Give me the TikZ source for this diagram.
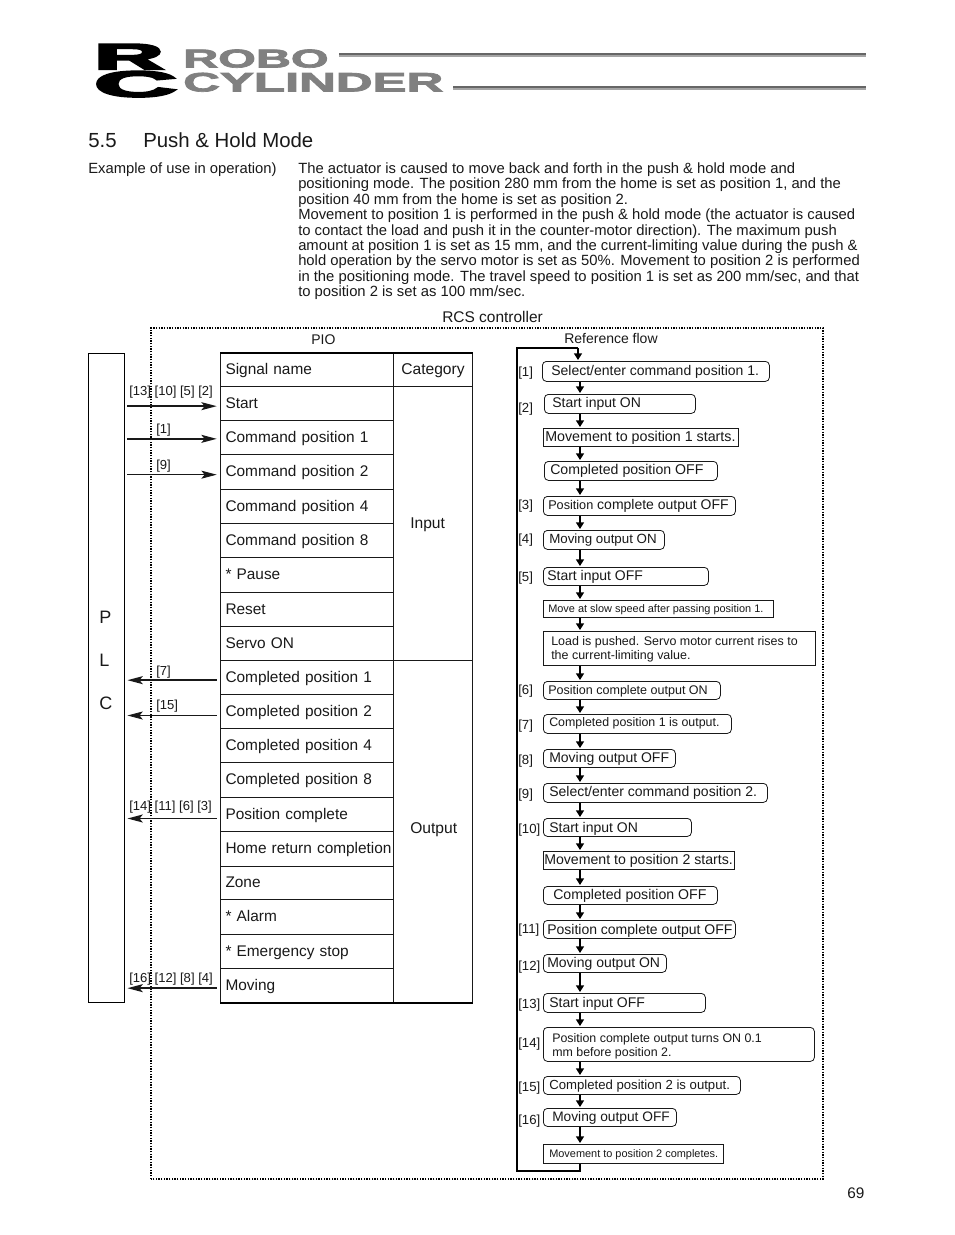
\documentclass[tikz,border=0pt]{standalone}
\usepackage{fontspec}
\setmainfont{Liberation Sans}
\newfontfamily\logofont[FakeBold=2.5]{Liberation Sans Bold}
\newfontfamily\logoheavy[FakeBold=5]{Liberation Sans Bold}
\usetikzlibrary{arrows.meta, positioning, calc}
\definecolor{logogray}{RGB}{128,128,128}
\definecolor{rulegray}{RGB}{165,165,165}
\definecolor{inkdark}{RGB}{25,25,25}
\begin{document}
\begin{tikzpicture}[x=0.75pt, y=-0.75pt, inkdark,
		txt/.style={inner sep=0pt, anchor=base west, align=left},
		sigrow/.style={draw, line width=0.75pt, anchor=north west, inner xsep=3.75pt, inner ysep=0pt,
		            text width=122.25pt, align=left, text height=9.5pt, text depth=2.5pt,
		            font=\fontsize{11.55}{13}\selectfont},
		catbox/.style={draw, line width=0.75pt, anchor=north west, inner sep=0pt, minimum width=59.25pt},
		rbox/.style={draw, line width=0.6pt, anchor=north west, inner sep=0pt, rounded corners=3pt},
		sbox/.style={draw, line width=0.7pt, anchor=north west, inner sep=0pt},
		sigarrow/.style={-{Stealth[length=11.5pt, width=6pt, inset=2.5pt]}, line width=1.1pt},
		sigthin/.style={-{Stealth[length=11.5pt, width=6pt, inset=2.5pt]}, line width=0.6pt},
		flowarrow/.style={-{Triangle[length=5pt, width=6pt]}, line width=1pt, black, shorten >=0.75pt},
		dotbox/.style={line width=1pt, dash pattern=on 1pt off 1pt, black}]
	\useasboundingbox (0,0) rectangle (954,1235);
	\fill[white] (0,0) rectangle (954,1235);

	\node[inner sep=0pt, anchor=north west, black] (logoR) at (94,44)
		{\resizebox{52pt}{18.75pt}{\logoheavy R}};
	\node[inner sep=0pt, anchor=north west, black] (logoC) at (94,71)
		{\resizebox{62pt}{19pt}{\logoheavy C}};
	\node[inner sep=0pt, anchor=south west, text=logogray] (logoA) at (183,68)
		{\resizebox{109pt}{13.5pt}{\logofont ROBO}};
	\node[inner sep=0pt, anchor=south west, text=logogray] (logoB) at (183,92)
		{\resizebox{195pt}{14pt}{\logofont CYLINDER}};
	\fill[rulegray] (339,53) rectangle (866,57);
	\fill[black!60] (339,53) rectangle (866,55);
	\fill[rulegray] (453,86) rectangle (866,90);
	\fill[black!60] (453,86) rectangle (866,88);

	\node[txt, font=\fontsize{15.3}{18}\selectfont] (secno) at (88,147) {5.5};
	\node[txt, font=\fontsize{15.3}{18}\selectfont] (sectitle) at (143,147) {Push \& Hold Mode};
	\node[txt, font=\fontsize{11.1}{11.55}\selectfont] (exlabel) at (88,173) {Example of use in operation)};
	\node[inner sep=0pt, anchor=north west, align=left, font=\fontsize{11.1}{11.55}\selectfont] (body) at (298,162.5)
		{The actuator is caused to move back and forth in the push \& hold mode and\\
		positioning mode. The position 280 mm from the home is set as position 1, and the\\
		position 40 mm from the home is set as position 2.\\
		Movement to position 1 is performed in the push \& hold mode (the actuator is caused\\
		to contact the load and push it in the counter-motor direction). The maximum push\\
		amount at position 1 is set as 15 mm, and the current-limiting value during the push \&\\
		hold operation by the servo motor is set as 50\%. Movement to position 2 is performed\\
		in the positioning mode. The travel speed to position 1 is set as 200 mm/sec, and that\\
		to position 2 is set as 100 mm/sec.};
	\node[txt, font=\fontsize{11.6}{13}\selectfont] (rcs) at (442,322) {RCS controller};
	\node[txt, font=\fontsize{10.5}{12}\selectfont] (pio) at (311,344) {PIO};
	\node[txt, font=\fontsize{10.5}{12}\selectfont] (refflow) at (564,343) {Reference flow};
	\node[txt, font=\fontsize{11.5}{13}\selectfont] (pageno) at (847,1198) {69};

	\draw[dotbox] (151,1179) -- (151,328) -- (823,328) -- (823,1179) -- cycle;

	\node[draw, line width=1.1pt, anchor=north west, inner sep=0pt, minimum width=27pt, minimum height=486.75pt, black] (plc) at (88,353) {};
	\foreach \n/\y in {P/623,L/666,C/709}
		\node[txt, font=\fontsize{13.5}{15}\selectfont] (plc\n) at (99,\y) {\n};

	\foreach \i/\t/\b/\s in {0/353/386/Signal name,1/386/420/Start,2/420/454/Command position 1,
			3/454/489/Command position 2,4/489/523/Command position 4,5/523/557/Command position 8,
			6/557/592/* Pause,7/592/626/Reset,8/626/660/Servo ON,9/660/694/Completed position 1,
			10/694/728/Completed position 2,11/728/762/Completed position 4,12/762/797/Completed position 8,
			13/797/831/Position complete,14/831/866/\mbox{Home return completion},15/866/899/Zone,
			16/899/934/* Alarm,17/934/968/* Emergency stop,18/968/1002/Moving}
		\node[sigrow, minimum height={(\b-\t)*0.75pt}] (sig\i) at (220,\t) {\s};
	\node[catbox, minimum height=24.75pt, text height=9.5pt, text depth=2.5pt, font=\fontsize{11.7}{13}\selectfont] (cat) at (393,353) {Category};
	\node[catbox, minimum height=205.5pt] (catin) at (393,386) {};
	\node[catbox, minimum height=256.5pt] (catout) at (393,660) {};
	\node[txt, font=\fontsize{11.7}{13}\selectfont] (lblin) at (410,528) {Input};
	\node[txt, font=\fontsize{11.7}{13}\selectfont] (lblout) at (410,833) {Output};
	\draw[line width=1.1pt, black] (sig0.north west) -- (cat.north east);
	\draw[line width=1.1pt, black] (sig18.south west) -- (catout.south east);

	\draw[sigarrow] ([xshift=1.5pt,yshift=-2pt]plc.east |- sig1.west) -- ([xshift=-2.5pt,yshift=-2pt]sig1.west);
	\draw[sigarrow] ([xshift=1.5pt,yshift=-1pt]plc.east |- sig2.west) -- ([xshift=-2.5pt,yshift=-1pt]sig2.west);
	\draw[sigthin] ([xshift=1.5pt,yshift=-2pt]plc.east |- sig3.west) -- ([xshift=-2.5pt,yshift=-2pt]sig3.west);
	\draw[sigarrow] ([xshift=-2.5pt,yshift=-2pt]sig9.west) -- ([xshift=1.5pt,yshift=-2pt]plc.east |- sig9.west);
	\draw[sigthin] ([xshift=-2.5pt,yshift=-3pt]sig10.west) -- ([xshift=1.5pt,yshift=-3pt]plc.east |- sig10.west);
	\draw[sigarrow] ([xshift=-2.5pt,yshift=-3pt]sig13.west) -- ([xshift=1.5pt,yshift=-3pt]plc.east |- sig13.west);
	\draw[sigarrow] ([xshift=-2.5pt,yshift=-2pt]sig18.west) -- ([xshift=1.5pt,yshift=-2pt]plc.east |- sig18.west);

	\foreach \n/\x/\y/\s in {a/129/395/{[13] [10] [5] [2]},b/156/433/{[1]},c/156/469/{[9]},d/156/675/{[7]},
			e/156/709/{[15]},f/129/810/{[14] [11] [6] [3]},g/129/982/{[16] [12] [8] [4]}}
		\node[txt, font=\fontsize{9.8}{11}\selectfont] (sl\n) at (\x,\y) {\s};

	\foreach \n/\sty/\l/\t/\r/\b/\tx/\ty/\fs/\s in {
			1/rbox/542/361/769/381/551/375/10.5/{Select/enter command position 1.},
			2/rbox/544/394/695/413/552/407/10.5/{Start input ON},
			3/sbox/543/428/738/446/545/441/10.7/{Movement to position 1 starts.},
			4/rbox/544/461/717/480/550/474/10.6/{Completed position OFF},
			5/rbox/543/496/735/515/548/509/10.5/{{\fontsize{9.5}{10.5}\selectfont Position} complete output OFF},
			6/rbox/543/530/664/549/549/543/10/{Moving output ON},
			7/rbox/543/567/708/585/547/580/10.5/{Start input OFF},
			8/sbox/543/600/773/617/548/612/8.2/{Move at slow speed after passing position 1.},
			9/sbox/543/631/815/665/551/659/9.35/{Load is pushed. Servo motor current rises to\\the current-limiting value.},
			10/rbox/543/681/720/699/548/694/9.4/{Position complete output ON},
			11/rbox/543/714/731/733/549/726/9.3/{Completed position 1 is output.},
			12/rbox/543/749/675/767/549/762/10.5/{Moving output OFF},
			13/rbox/543/783/767/802/549/796/10.5/{Select/enter command position 2.},
			14/rbox/543/818/691/836/549/832/10.5/{Start input ON},
			15/sbox/543/851/734/869/544/864/10.6/{Movement to position 2 starts.},
			16/rbox/543/886/717/904/553/899/10.6/{Completed position OFF},
			17/rbox/543/920/735/938/547/934/10.5/{Position complete output OFF},
			18/rbox/543/954/666/972/547/967/10.5/{Moving output ON},
			19/rbox/543/993/705/1012/549/1007/10.5/{Start input OFF},
			20/rbox/543/1027/814/1061/552/1056/9.3/{Position complete output turns ON 0.1\\mm before position 2.},
			21/rbox/543/1076/740/1094/549/1089/9.87/{Completed position 2 is output.},
			22/rbox/543/1108/676/1126/552/1121/10.3/{Moving output OFF},
			23/sbox/543/1144/723/1163/549/1157/8.2/{Movement to position 2 completes.}} {
		\node[\sty, minimum width={(\r-\l)*0.75pt}, minimum height={(\b-\t)*0.75pt}] (f\n) at (\l,\t) {};
		\node[txt, font=\fontsize{\fs}{10.5}\selectfont] (ft\n) at (\tx,\ty) {\s};
	}

	\foreach \n/\y/\s in {a/376/{[1]},b/412/{[2]},c/509/{[3]},d/543/{[4]},e/581/{[5]},f/694/{[6]},g/729/{[7]},h/764/{[8]},
			i/798/{[9]},j/833/{[10]},k/933/{[11]},l/970/{[12]},m/1008/{[13]},n/1047/{[14]},o/1091/{[15]},p/1124/{[16]}}
		\node[txt, font=\fontsize{9.9}{11}\selectfont] (st\n) at (518,\y) {\s};

	\coordinate (fx) at (580,0);
	\coordinate (loopa) at (517,1171);
	\coordinate (loopb) at (517,348);
	\foreach \n [evaluate=\n as \m using int(\n+1)] in {1,...,22}
		\draw[flowarrow] (fx |- f\n.south) -- (fx |- f\m.north);
	\draw[line width=0.9pt, black] (fx |- f23.south) |- (loopa) -- (loopb) -- ([xshift=-1.5pt]fx |- loopb);
	\draw[flowarrow] ([xshift=-1.5pt]fx |- loopb) -- ([xshift=-1.5pt]fx |- f1.north);
\end{tikzpicture}
\end{document}
